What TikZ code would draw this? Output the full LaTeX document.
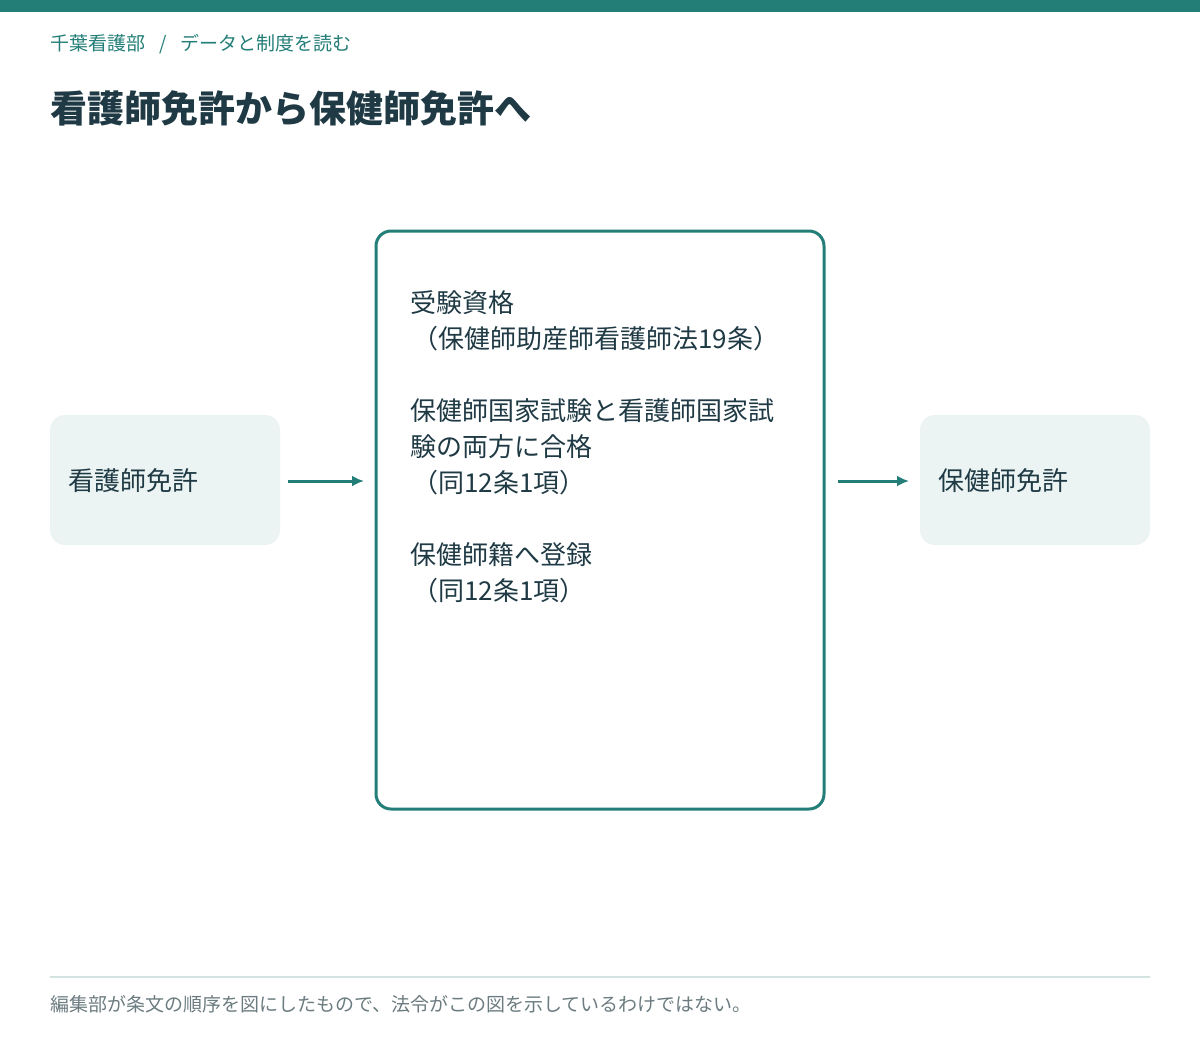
\documentclass[tikz,border=0pt]{standalone}
\usepackage{fontspec}
\setmainfont{Noto Sans CJK JP}
\usetikzlibrary{arrows.meta}
\definecolor{teal1}{HTML}{237E78}
\definecolor{dark}{HTML}{1F3A44}
\definecolor{pale}{HTML}{EBF4F3}
\definecolor{grayt}{HTML}{6B7B80}
\definecolor{rule}{HTML}{D3E3E1}
\begin{document}
\begin{tikzpicture}[x=1pt,y=-1pt,
  side/.style={fill=pale,rounded corners=15pt,draw=none},
  lbl/.style={anchor=west,font=\fontsize{26}{36}\selectfont,text=dark,inner sep=0},
  arr/.style={draw=teal1,line width=3pt,-{Latex[length=12pt,width=11pt]}}]
\useasboundingbox (0,0) rectangle (1200,1050);
\fill[teal1] (0,0) rectangle (1200,12);
\node[anchor=west,inner sep=0,text=teal1,font=\fontsize{19}{22}\selectfont] (bc) at (50,44) {千葉看護部\hspace{14pt}/\hspace{14pt}データと制度を読む};
\node[anchor=west,inner sep=0,text=dark,font=\fontsize{37}{40}\selectfont\bfseries] (t) at (50,108) {看護師免許から保健師免許へ};
\path[side] (50,415) rectangle (280,545);
\coordinate (Lr) at (288,481);
\node[lbl] (l) at (68,481) {看護師免許};
\path[side] (920,415) rectangle (1150,545);
\node[lbl] (r) at (938,481) {保健師免許};
\draw[draw=teal1,line width=3pt,rounded corners=15pt] (376,231) rectangle (824,809);
\coordinate (Ci) at (364,481);
\coordinate (Co) at (838,481);
\coordinate (Ri) at (909,481);
\draw[arr] (Lr) -- (Ci);
\draw[arr] (Co) -- (Ri);
\node[anchor=north west,inner sep=0,text=dark,font=\fontsize{26}{36}\selectfont,align=left] (c) at (410,290) {受験資格\\\hspace*{2pt}（保健師助産師看護師法19条）\\[36pt]保健師国家試験と看護師国家試\\験の両方に合格\\\hspace*{2pt}（同12条1項）\\[36pt]保健師籍へ登録\\\hspace*{2pt}（同12条1項）};
\draw[rule,line width=1.5pt] (50,977) -- (1150,977);
\node[anchor=west,inner sep=0,text=grayt,font=\fontsize{19}{20}\selectfont] (f) at (50,1004) {編集部が条文の順序を図にしたもので、法令がこの図を示しているわけではない。};
\end{tikzpicture}
\end{document}
